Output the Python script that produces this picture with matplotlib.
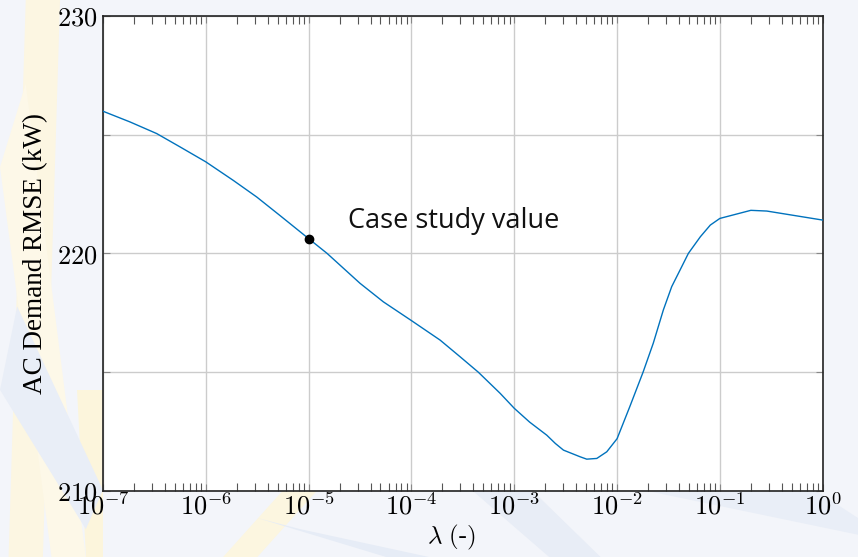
import matplotlib
matplotlib.use("Agg")
import matplotlib.pyplot as plt
import numpy as np
from matplotlib.patches import Polygon
from matplotlib.ticker import LogLocator, FixedLocator, NullFormatter

# ---- data ----
lam = [1e-7, 1.83e-7, 3.33e-7, 5.61e-7, 1e-6, 1.85e-6, 3.13e-6, 5.27e-6, 1e-5,
       1.51e-5, 3.16e-5, 5.33e-5, 1e-4, 1.90e-4, 2.97e-4, 4.47e-4, 7.29e-4, 1e-3,
       1.41e-3, 2.07e-3, 2.51e-3, 3.01e-3, 4.37e-3, 5.07e-3, 6.35e-3, 7.94e-3, 1e-2,
       1.33e-2, 1.79e-2, 2.25e-2, 2.82e-2, 3.40e-2, 4.10e-2, 4.94e-2, 6.46e-2,
       8.07e-2, 1e-1, 2e-1, 2.86e-1, 1e0]
rmse = [225.98, 225.53, 225.04, 224.48, 223.85, 223.07, 222.37, 221.59, 220.62,
        220.00, 218.74, 217.96, 217.17, 216.35, 215.65, 215.00, 214.11, 213.48,
        212.90, 212.35, 212.00, 211.72, 211.44, 211.34, 211.37, 211.65, 212.20,
        213.55, 215.00, 216.22, 217.62, 218.60, 219.30, 220.00, 220.70,
        221.19, 221.47, 221.81, 221.78, 221.40]

case_lam = 1e-5
case_rmse = 220.62
case_label = "Case study value"

x_ticks = [1e-7, 1e-6, 1e-5, 1e-4, 1e-3, 1e-2, 1e-1, 1e0]
x_ticklabels = [r"$10^{-7}$", r"$10^{-6}$", r"$10^{-5}$", r"$10^{-4}$",
                r"$10^{-3}$", r"$10^{-2}$", r"$10^{-1}$", r"$10^{0}$"]
y_grid = [210, 215, 220, 225, 230]
y_ticklabels = [r"$210$", "", r"$220$", "", r"$230$"]

plt.rcParams["mathtext.fontset"] = "cm"

fig = plt.figure(figsize=(8.58, 5.57), dpi=100)
fig.patch.set_facecolor("#f3f5fa")

# faint decorative background rays
bg = fig.add_axes([0, 0, 1, 1], zorder=-10)
bg.set_xlim(0, 1); bg.set_ylim(0, 1); bg.axis("off")
rays = [((0.03, 1.0), (0.07, 1.0), (0.05, 0.0), (0.01, 0.0), "#fcf6e2"),
        ((0.0, 0.7), (0.03, 0.85), (0.1, 0.0), (0.06, 0.0), "#fdf8e8"),
        ((0.09, 0.3), (0.12, 0.3), (0.12, 0.0), (0.1, 0.0), "#fcf5dc"),
        ((0.33, 0.12), (0.37, 0.12), (0.3, 0.0), (0.26, 0.0), "#fcf6e0"),
        ((0.0, 0.3), (0.02, 0.45), (0.12, 0.12), (0.1, 0.05), "#e9eef7"),
        ((0.35, 0.05), (0.5, 0.0), (0.45, 0.0), (0.3, 0.07), "#e6ecf6"),
        ((0.75, 0.12), (0.95, 0.12), (1.0, 0.07), (1.0, 0.04), "#e9eef7"),
        ((0.55, 0.12), (0.62, 0.12), (0.7, 0.0), (0.64, 0.0), "#e8edf6")]
for a, b, c, d, col in rays:
    bg.add_patch(Polygon([a, b, c, d], closed=True, facecolor=col, edgecolor="none"))

ax = fig.add_axes([103/858, 1-491/557, (822.7-103)/858, (491-15.7)/557])
ax.set_facecolor("white")
ax.set_xscale("log")
ax.set_xlim(1e-7, 1e0)
ax.set_ylim(210, 230)

ax.plot(lam, rmse, color="#0072BD", lw=1.0, zorder=3)
ax.plot([case_lam], [case_rmse], "o", color="black", ms=6, zorder=4)
ax.text(2.42e-5, 221.36, case_label, family="Open Sans", fontsize=19.5,
        ha="left", va="center", color="#111111")

ax.xaxis.set_major_locator(FixedLocator(x_ticks))
ax.set_xticklabels(x_ticklabels)
ax.xaxis.set_minor_locator(LogLocator(base=10, subs=np.arange(2, 10), numticks=20))
ax.xaxis.set_minor_formatter(NullFormatter())
ax.yaxis.set_major_locator(FixedLocator(y_grid))
ax.set_yticklabels(y_ticklabels)

ax.grid(True, which="major", color="#cccccc", lw=1.0, zorder=0)
ax.set_axisbelow(True)
ax.tick_params(axis="both", which="major", direction="in", length=5, width=0.8,
               color="#888888", labelsize=19, top=True, right=True)
ax.tick_params(axis="x", which="minor", direction="in", length=5.5, width=0.8,
               color="#555555", top=True, bottom=True)
ax.tick_params(axis="x", pad=2)
ax.tick_params(axis="y", pad=4)

for s in ax.spines.values():
    s.set_color("#222222")
    s.set_linewidth(1.2)

ax.set_ylabel("AC Demand RMSE (kW)", family="Liberation Serif", fontsize=19.5, labelpad=6)
ax.set_xlabel(r"$\lambda\ \mathrm{(\text{-})}$", fontsize=18, labelpad=0)
ax.xaxis.set_label_coords((452 - 103) / (822.7 - 103), -0.068)

fig.savefig("out.png", dpi=100, facecolor=fig.get_facecolor())
